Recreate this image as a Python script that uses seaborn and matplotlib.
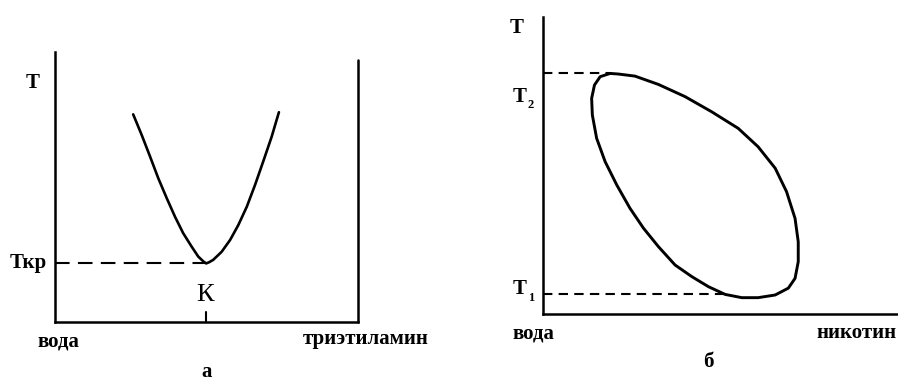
import matplotlib
matplotlib.use("Agg")
import matplotlib.pyplot as plt
import seaborn as sns
import pandas as pd

# --- Panel а: water / triethylamine, lower critical solution temperature ---
tea_x = [0.258, 0.286, 0.314, 0.341, 0.369, 0.396, 0.423, 0.451, 0.473, 0.490,
         0.499, 0.508, 0.522, 0.550, 0.578, 0.605, 0.633, 0.660, 0.687, 0.715,
         0.739]
tea_t = [0.769, 0.693, 0.612, 0.532, 0.458, 0.390, 0.329, 0.279, 0.242, 0.224,
         0.217, 0.221, 0.230, 0.260, 0.304, 0.359, 0.427, 0.507, 0.594, 0.686,
         0.777]
t_crit = 0.217
x_crit = 0.497

# --- Panel б: water / nicotine, closed miscibility loop ---
nic_x = [0.189, 0.161, 0.145, 0.137, 0.139, 0.151, 0.175, 0.208, 0.245, 0.283,
         0.325, 0.372, 0.419, 0.466, 0.513, 0.560, 0.606, 0.654, 0.691, 0.710,
         0.719, 0.719, 0.710, 0.686, 0.654, 0.606, 0.550, 0.475, 0.400, 0.325,
         0.259, 0.212, 0.189]
nic_t = [0.810, 0.799, 0.771, 0.726, 0.670, 0.592, 0.513, 0.434, 0.356, 0.289,
         0.227, 0.165, 0.126, 0.092, 0.066, 0.055, 0.055, 0.064, 0.087, 0.120,
         0.176, 0.243, 0.322, 0.412, 0.491, 0.563, 0.625, 0.681, 0.732, 0.773,
         0.801, 0.808, 0.810]
t_upper = 0.813
x_upper = 0.189
t_lower = 0.066
x_lower = 0.513

sns.set_theme(style="white")
plt.rcParams["font.family"] = ["Liberation Serif", "DejaVu Serif"]

W, H = 898, 383
fig = plt.figure(figsize=(W / 100, H / 100), dpi=100)


def px(x, y):
    return x / W, 1 - y / H


def label(x, y, s, size=15, weight="bold", ha="center", va="center"):
    fig.text(*px(x, y), s, fontsize=size, fontweight=weight, ha=ha, va=va,
             color="black")


def curve(ax, xs, ts, lw):
    df = pd.DataFrame({"x": xs, "t": ts})
    sns.lineplot(data=df, x="x", y="t", sort=False, estimator=None,
                 color="black", lw=lw, ax=ax)


# Panel а axes
ax1 = fig.add_axes([55 / W, 61 / H, 303 / W, 270 / H])
ax1.set_xlim(0, 1)
ax1.set_ylim(0, 1)
curve(ax1, tea_x, tea_t, 1.9)
ax1.plot([0, x_crit], [t_crit, t_crit], color="black", lw=1.5,
         dashes=(7, 4))
ax1.plot([x_crit, x_crit], [0, 0.037], color="black", lw=1.5)
ax1.plot([1, 1], [0, 0.970], color="black", lw=1.8, clip_on=False)

# Panel б axes
ax2 = fig.add_axes([543 / W, 69 / H, 355 / W, 297 / H])
ax2.set_xlim(0, 1)
ax2.set_ylim(0, 1)
curve(ax2, nic_x, nic_t, 2.1)
ax2.plot([0, x_upper], [t_upper, t_upper], color="black", lw=1.5,
         dashes=(4.5, 3))
ax2.plot([0, x_lower], [t_lower, t_lower], color="black", lw=1.5,
         dashes=(4.5, 3))

for ax in (ax1, ax2):
    ax.set_xticks([])
    ax.set_yticks([])
    ax.set_xlabel("")
    ax.set_ylabel("")
    ax.patch.set_alpha(0)
    for side in ("top", "right"):
        ax.spines[side].set_visible(False)
    for side in ("left", "bottom"):
        ax.spines[side].set_color("black")
        ax.spines[side].set_linewidth(1.8)

# Panel а labels
label(33, 83, "T")
label(28, 263, "Ткр")
label(205, 295, "К", size=19, weight="normal")
label(58, 341, "вода")
label(366, 339, "триэтиламин")
label(207, 382, "а", va="bottom")

# Panel б labels
label(517, 28, "T")
label(520, 97, "T")
label(531, 105, "2", size=9)
label(520, 289, "T")
label(531, 298, "1", size=9)
label(533, 333, "вода")
label(897, 333, "никотин", ha="right")
label(708, 362, "б")

fig.savefig("out.png", dpi=100, facecolor="white")
